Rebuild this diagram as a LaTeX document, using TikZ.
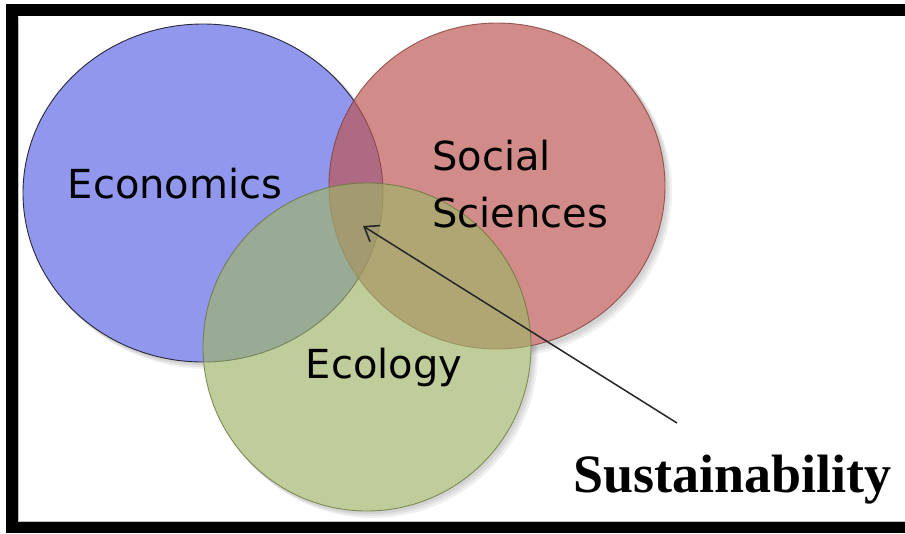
\documentclass[tikz,border=0pt]{standalone}
\usepackage{fontspec}
\setmainfont{DejaVu Sans}
\newfontfamily\serifb{Liberation Serif}
\usetikzlibrary{shapes.geometric,arrows.meta}
\definecolor{ecoblue}{RGB}{145,151,236}
\definecolor{socred}{RGB}{188,86,82}
\definecolor{ecogreen}{RGB}{158,180,104}
\definecolor{ecoline}{RGB}{40,40,60}
\definecolor{socline}{RGB}{130,60,55}
\definecolor{greenline}{RGB}{105,120,60}
\tikzset{
  set/.style={ellipse, inner sep=0pt, line width=0.9pt},
  lbl/.style={font=\fontsize{40}{48}\selectfont, inner sep=0pt, text=black},
  shade/.style={ellipse, inner sep=0pt, fill=black, fill opacity=0.06, draw=none},
  blank/.style={ellipse, inner sep=0pt, fill=white, draw=none},
}
\begin{document}
\begin{tikzpicture}[x=1pt,y=-1pt]
\useasboundingbox (0,0) rectangle (905,533);
\fill[white] (0,0) rectangle (905,533);
% frame
\fill[black] (6,4) rectangle (905,533);
\fill[white] (18,16) rectangle (905,522);
\draw[black!25, line width=0.6pt] (18.5,16.5) -- (18.5,521.5) -- (905,521.5);
% soft shadows
\foreach \d in {2,4,6}{
  \node[shade, minimum width=338pt, minimum height=330pt] at (497+\d,186+\d) {};
  \node[shade, minimum width=330pt, minimum height=330pt] at (367+\d,347+\d) {};
  \node[shade, minimum width=362pt, minimum height=340pt] at (203+\d,193+\d) {};
}
\node[blank, minimum width=336pt, minimum height=326pt] at (497,186) {};
\node[blank, minimum width=328pt, minimum height=328pt] at (367,347) {};
% sets
\node[set, draw=ecoline, fill=ecoblue, minimum width=360pt, minimum height=338pt] (eco) at (203,193) {};
\node[set, draw=socline, draw opacity=0.8, fill=socred, fill opacity=0.68, minimum width=336pt, minimum height=326pt] (soc) at (497,186) {};
\node[set, draw=greenline, draw opacity=0.8, fill=ecogreen, fill opacity=0.66, minimum width=328pt, minimum height=328pt] (ecol) at (367,347) {};
% labels
\node[lbl, anchor=base] (teco) at (175,198) {Economics};
\node[lbl, anchor=base west] (tsoc) at (432,170) {Social};
\node[lbl, anchor=base west] (tsci) at (432,227) {Sciences};
\node[lbl, anchor=base] (tecol) at (384,378) {Ecology};
\node[anchor=base west, inner sep=0pt, font=\serifb\bfseries\fontsize{54}{60}\selectfont] (sus) at (573,492) {Sustainability};
% arrow
\coordinate (astart) at (677,423);
\coordinate (aend) at (363,226);
\draw[black!85, line width=1.5pt, -{Straight Barb[length=13pt,width=19pt,line width=1.6pt]}] (astart) -- (aend);
\end{tikzpicture}
\end{document}
